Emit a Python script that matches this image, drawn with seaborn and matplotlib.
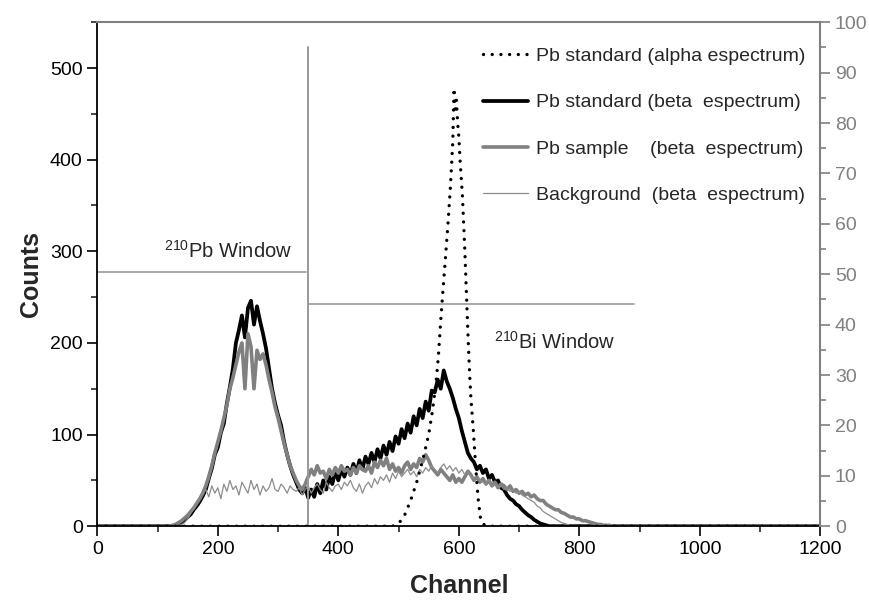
import numpy as np
import pandas as pd
import seaborn as sns
import matplotlib.pyplot as plt
from matplotlib.ticker import MultipleLocator

# beta spectra, every 5 channels (100..900)
channel = list(range(100, 905, 5))

pb_standard_beta = [
    0, 0, 0, 0, 0, 0, 1, 2, 4, 7,
    10, 13, 18, 22, 27, 33, 40, 52, 63, 78,
    86, 102, 112, 134, 152, 172, 200, 214, 230, 206,
    238, 246, 220, 240, 224, 210, 194, 172, 150, 134,
    121, 110, 92, 78, 66, 56, 48, 40, 36, 42,
    31, 40, 32, 46, 36, 50, 40, 54, 46, 60,
    50, 62, 54, 64, 56, 68, 58, 72, 62, 76,
    68, 80, 70, 84, 74, 88, 78, 92, 82, 98,
    90, 106, 96, 112, 102, 120, 110, 128, 118, 136,
    126, 148, 146, 160, 150, 170, 158, 150, 140, 128,
    118, 104, 92, 80, 74, 70, 62, 66, 58, 62,
    52, 56, 48, 50, 42, 40, 34, 30, 28, 24,
    22, 18, 15, 12, 10, 7, 5, 3, 2, 1,
    0, 0, 0, 0, 0, 0, 0, 0, 0, 0,
    0, 0, 0, 0, 0, 0, 0, 0, 0, 0,
    0, 0, 0, 0, 0, 0, 0, 0, 0, 0,
    0,
]

pb_sample_beta = [
    0, 0, 0, 0, 0, 1, 2, 4, 6, 9,
    12, 16, 20, 25, 30, 36, 44, 54, 66, 80,
    92, 104, 118, 132, 150, 162, 176, 190, 200, 150,
    210, 196, 150, 192, 182, 188, 176, 160, 146, 130,
    118, 104, 90, 78, 66, 58, 50, 44, 40, 46,
    54, 62, 56, 66, 58, 60, 52, 62, 56, 64,
    58, 66, 60, 62, 56, 64, 58, 66, 62, 60,
    66, 58, 70, 64, 72, 66, 74, 62, 68, 60,
    64, 58, 66, 70, 62, 68, 64, 74, 70, 78,
    72, 64, 60, 56, 62, 58, 54, 50, 56, 48,
    52, 48, 54, 60, 56, 50, 54, 48, 52, 46,
    50, 44, 48, 42, 46, 44, 40, 44, 38, 40,
    36, 38, 34, 36, 32, 34, 30, 28, 28, 24,
    22, 20, 18, 18, 15, 14, 12, 10, 10, 8,
    8, 6, 6, 5, 4, 3, 2, 2, 1, 1,
    1, 0, 0, 0, 0, 0, 0, 0, 0, 0,
    0,
]

background_beta = [
    0, 0, 0, 0, 0, 0, 0, 1, 2, 4,
    8, 14, 20, 26, 30, 36, 40, 32, 44, 36,
    42, 30, 46, 38, 50, 40, 44, 34, 48, 42,
    36, 50, 40, 46, 34, 44, 38, 42, 52, 40,
    38, 46, 42, 36, 44, 40, 38, 42, 34, 40,
    44, 36, 42, 46, 40, 36, 48, 42, 38, 44,
    46, 40, 48, 44, 50, 42, 38, 46, 36, 44,
    48, 42, 52, 46, 54, 50, 56, 48, 58, 52,
    60, 54, 58, 62, 56, 60, 54, 62, 58, 64,
    60, 66, 62, 58, 64, 68, 62, 66, 60, 64,
    58, 62, 56, 60, 54, 52, 56, 50, 48, 46,
    50, 44, 46, 42, 44, 40, 42, 38, 40, 36,
    38, 34, 32, 30, 28, 26, 22, 20, 16, 14,
    12, 10, 8, 6, 4, 3, 2, 1, 0, 0,
    0, 0, 0, 0, 0, 0, 0, 0, 0, 0,
    0, 0, 0, 0, 0, 0, 0, 0, 0, 0,
    0,
]

# alpha spectrum, right axis scale
alpha_channel = [0, 490, 500, 510, 520, 530, 540, 550, 556, 562, 566, 570, 574, 578,
                 582, 586, 588, 590, 592, 594, 596, 598, 600, 602, 604, 606, 608,
                 610, 612, 614, 616, 618, 620, 624, 628, 632, 636, 640, 650, 1200]
pb_standard_alpha = [0, 0, 0.5, 2.2, 5.1, 8.7, 13.1, 18.2, 22.7, 28.2, 33.6, 40.9, 47.3, 53.6,
                     60.0, 67.3, 71.8, 76.4, 86.9, 82.7, 84.5, 80.0, 77.3, 72.7, 69.1, 65.5, 60.0,
                     54.5, 48.2, 41.8, 35.5, 30.0, 25.5, 19.1, 11.8, 5.5, 1.5, 0.4, 0, 0]

# counting windows (channel range, level in counts)
pb_window = (0, 346, 277)
bi_window = (350, 890, 242)
window_split = 350
window_split_top = 523

sns.set_theme(style="ticks")
plt.rcParams["font.family"] = ["Liberation Sans", "DejaVu Sans"]
plt.rcParams["mathtext.fontset"] = "custom"
plt.rcParams["mathtext.rm"] = "Liberation Sans"
plt.rcParams["mathtext.default"] = "regular"

grey = "#808080"
x_beta = [0] + channel + [1200]
df = pd.DataFrame({
    "channel": x_beta,
    "standard": [0] + pb_standard_beta + [0],
    "sample": [0] + pb_sample_beta + [0],
    "background": [0] + background_beta + [0],
})

fig = plt.figure(figsize=(8.69, 6), dpi=100)
ax = fig.add_axes([0.112, 0.123, 0.832, 0.84])
ax2 = ax.twinx()

sns.lineplot(data=df, x="channel", y="standard", ax=ax, color="black", lw=2.7,
             sort=False, estimator=None, label="Pb standard (beta  espectrum)")
sns.lineplot(data=df, x="channel", y="sample", ax=ax, color=grey, lw=2.6,
             sort=False, estimator=None, label="Pb sample    (beta  espectrum)")
sns.lineplot(data=df, x="channel", y="background", ax=ax, color="#8c8c8c", lw=0.9,
             sort=False, estimator=None, label="Background  (beta  espectrum)")
sns.lineplot(x=alpha_channel, y=pb_standard_alpha, ax=ax2, color="black", lw=2.4,
             linestyle=(0, (0.01, 2.6)), dash_capstyle="round", sort=False,
             estimator=None, label="Pb standard (alpha espectrum)")

# window marks
ax.plot([pb_window[0], pb_window[1]], [pb_window[2], pb_window[2]], color="#999999", lw=1.2)
ax.plot([bi_window[0], bi_window[1]], [bi_window[2], bi_window[2]], color="#999999", lw=1.2)
ax.plot([window_split, window_split], [0, window_split_top], color="#999999", lw=1.4)
ax.text(110, 293, "$^{210}$Pb Window", fontsize=14.5)
ax.text(659, 194, "$^{210}$Bi Window", fontsize=14.5)

ax.set_xlim(0, 1200)
ax.set_ylim(0, 550)
ax2.set_ylim(0, 100)
ax.xaxis.set_major_locator(MultipleLocator(200))
ax.xaxis.set_minor_locator(MultipleLocator(100))
ax.yaxis.set_major_locator(MultipleLocator(100))
ax.yaxis.set_minor_locator(MultipleLocator(50))
ax2.yaxis.set_major_locator(MultipleLocator(10))
ax2.yaxis.set_minor_locator(MultipleLocator(5))

ax.set_xlabel("Channel", fontsize=18, fontweight="bold", labelpad=12)
ax.set_ylabel("Counts", fontsize=18, fontweight="bold", labelpad=5)
ax2.set_ylabel("")

ax.tick_params(axis="both", which="major", labelsize=14, length=7, width=1.2,
               direction="out", colors="black")
ax.tick_params(axis="both", which="minor", length=4, width=1.2, direction="out")
ax2.tick_params(axis="y", which="major", labelsize=14, length=7, width=1.2,
                colors=grey, labelcolor=grey)
ax2.tick_params(axis="y", which="minor", length=4, width=1.2, colors=grey)

for s in ["left", "bottom"]:
    ax.spines[s].set_color("black")
    ax.spines[s].set_linewidth(1.3)
ax.spines["right"].set_visible(False)
ax.spines["top"].set_visible(False)
ax2.spines["left"].set_visible(False)
ax2.spines["bottom"].set_visible(False)
ax2.spines["right"].set_color(grey)
ax2.spines["right"].set_linewidth(1.5)
ax2.spines["top"].set_color(grey)
ax2.spines["top"].set_linewidth(1.5)

h1, l1 = ax.get_legend_handles_labels()
h2, l2 = ax2.get_legend_handles_labels()
ax.get_legend().remove()
ax2.get_legend().remove()
ax2.legend(h2 + h1, l2 + l1, loc="upper left", bbox_to_anchor=(0.534, 0.95),
           frameon=False, fontsize=14, borderpad=0, borderaxespad=0,
           labelspacing=1.48, handlelength=2.3, handletextpad=0.4)

fig.savefig("out.png", dpi=100)
